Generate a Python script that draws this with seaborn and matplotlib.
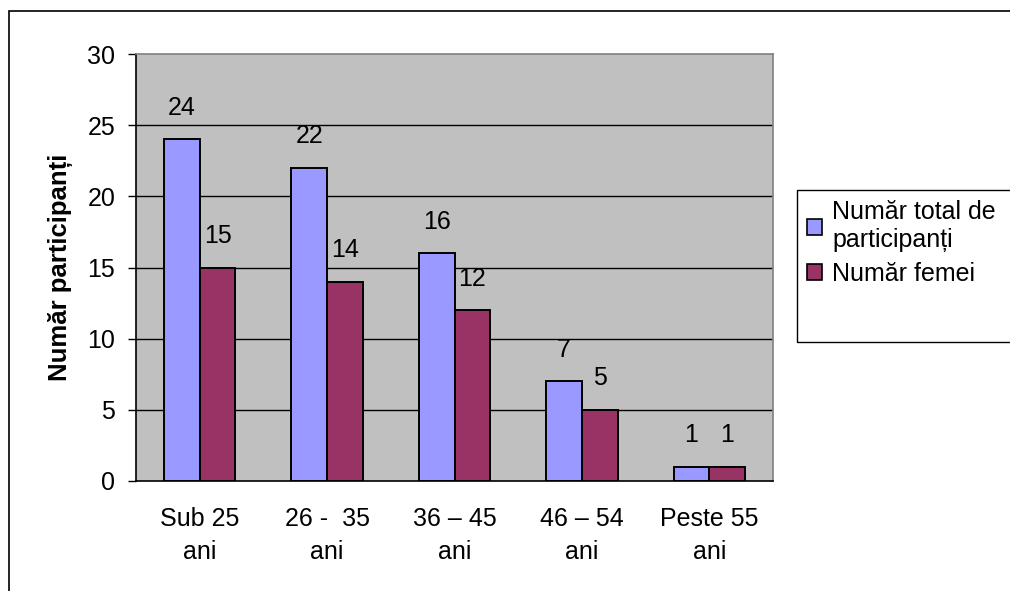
import matplotlib
matplotlib.use("Agg")
import matplotlib.pyplot as plt
import seaborn as sns
import pandas as pd
import numpy as np
from matplotlib.patches import Rectangle, Patch

categories = ["Sub 25\nani", "26 -  35\nani", "36 – 45\nani", "46 – 54\nani", "Peste 55\nani"]
total = [24, 22, 16, 7, 1]
femei = [15, 14, 12, 5, 1]
series_names = ["Număr total de\nparticipanți", "Număr femei"]
yticks = [0, 5, 10, 15, 20, 25, 30]

sns.set_theme(style="white")
plt.rcParams['font.family'] = ['Liberation Sans', 'DejaVu Sans']
plt.rcParams['text.color'] = 'black'
plt.rcParams['axes.labelcolor'] = 'black'
plt.rcParams['xtick.color'] = 'black'
plt.rcParams['ytick.color'] = 'black'

df = pd.DataFrame({
    "cat": categories * 2,
    "val": total + femei,
    "serie": [series_names[0]] * len(categories) + [series_names[1]] * len(categories),
})

fig = plt.figure(figsize=(10.1, 5.91), dpi=100)
W, H = 1010, 591
ax = fig.add_axes([136 / W, 1 - 481 / H, (773 - 136) / W, (481 - 54) / H])
ax.set_facecolor("#C0C0C0")

sns.barplot(data=df, x="cat", y="val", hue="serie", order=categories,
            hue_order=series_names, palette=["#9999FF", "#993366"],
            width=0.56, edgecolor="black", linewidth=1.4, ax=ax, legend=False,
            errorbar=None, saturation=1, zorder=3)

ax.set_ylim(0, 30)
ax.set_xlim(-0.5, len(categories) - 0.5)
ax.set_yticks(yticks)
ax.set_yticklabels([str(t) for t in yticks], fontsize=18)
for t in yticks[1:-1]:
    ax.axhline(t, color="black", linewidth=1, zorder=1)

ax.set_xticks(range(len(categories)))
ax.set_xticklabels(categories, fontsize=18, linespacing=1.45)
ax.set_xticks(np.arange(-0.5, len(categories)), minor=True)
ax.tick_params(axis="x", which="major", length=0, pad=19)
ax.tick_params(axis="x", which="minor", length=6, width=1, color="black", direction="out")
ax.tick_params(axis="y", length=6, width=1, color="black", direction="out", pad=9, left=True)
ax.set_xlabel("")
ax.set_ylabel("Număr participanți", fontsize=18.5, fontweight="bold", labelpad=10)

for side in ["left", "bottom"]:
    ax.spines[side].set_color("black")
    ax.spines[side].set_linewidth(1.2)
for side in ["top", "right"]:
    ax.spines[side].set_color("#808080")
    ax.spines[side].set_linewidth(1.2)

for cont in ax.containers:
    ax.bar_label(cont, labels=[f"{int(v)}" for v in cont.datavalues], padding=14, fontsize=18)

# figure border
fig.patches.append(Rectangle((9 / W, -0.1), 1.2, 1 - 11 / H + 0.1, transform=fig.transFigure,
                             fill=False, edgecolor="black", linewidth=1.2))
# legend box
fig.patches.append(Rectangle((797 / W, 1 - 342 / H), 0.3, (342 - 190) / H, transform=fig.transFigure,
                             fill=False, edgecolor="black", linewidth=1, clip_on=False))
handles = [Patch(facecolor=c, edgecolor="black", linewidth=1.2) for c in ["#9999FF", "#993366"]]
fig.legend(handles, series_names, loc="upper left", bbox_to_anchor=(807 / W, 1 - 200 / H),
           frameon=False, fontsize=18, handlelength=0.6, handleheight=0.6, handletextpad=0.4,
           labelspacing=0.4, borderaxespad=0, borderpad=0)

fig.savefig("out.png", dpi=100, facecolor="white")
